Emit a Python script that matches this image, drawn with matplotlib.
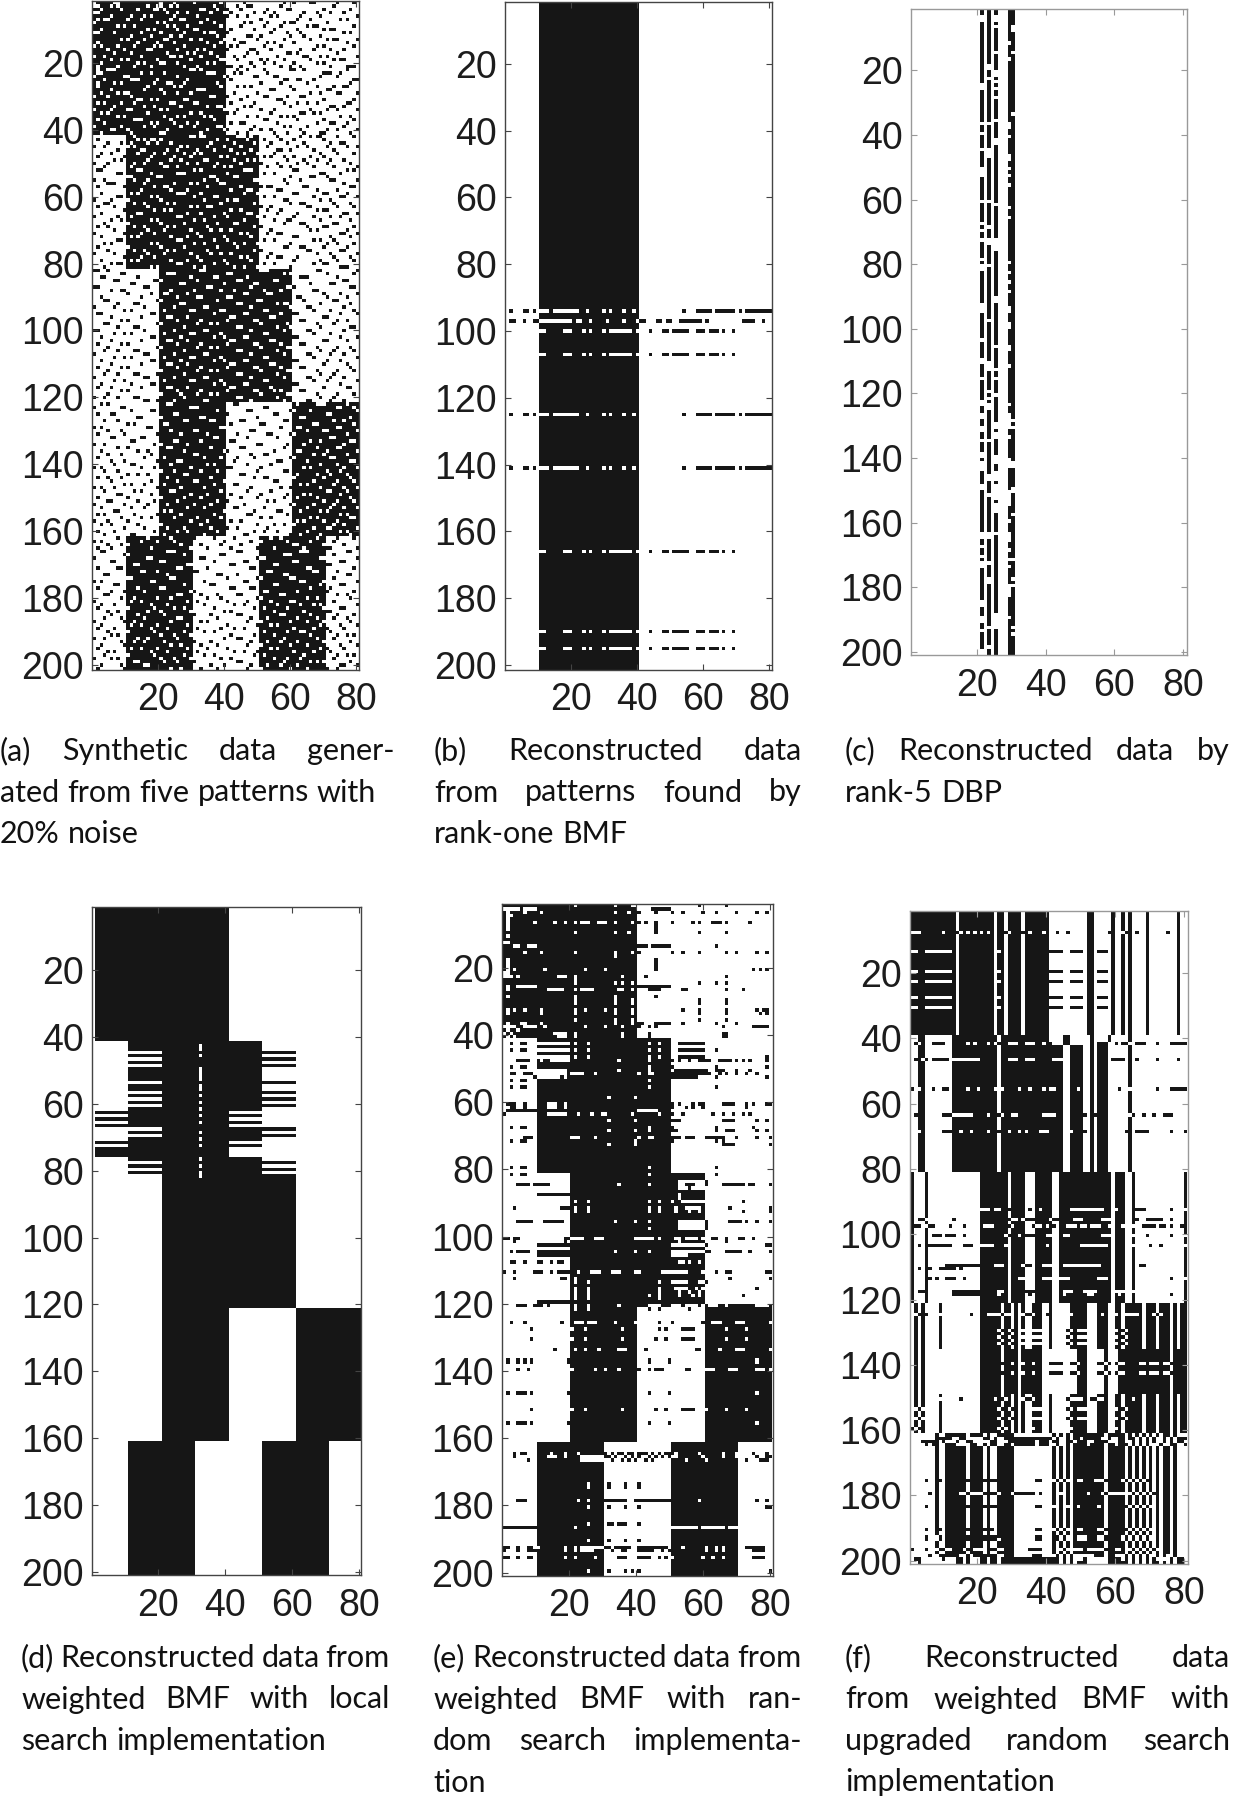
#!/usr/bin/env python
'''
Six binary matrices (200 rows x 80 columns). Cells were read by eye from the
picture: the block layout, stripes and row lines are close, but the single noise
cells of panel (a) are only estimates that keep the look and density of the picture.
'''
import numpy as np
import matplotlib
matplotlib.use('Agg')
import matplotlib.pyplot as plt
from matplotlib.colors import ListedColormap

W, H = 1233, 1800
BLACK = '#161616'
TEXT = '#1c1c1c'

# five planted patterns: first row, last row, black columns
PATTERNS = [(1, 40, '1-40'), (41, 80, '11-50'), (81, 120, '21-60'),
            (121, 160, '21-40 61-80'), (161, 200, '11-30 51-70')]

X_TICKS = [20, 40, 60, 80]
Y_TICKS = [20, 40, 60, 80, 100, 120, 140, 160, 180, 200]

# (a) flipped cells per row
A_NOISE = '''1 7-8 21 25 31 39 46 58 61 66-67 74 79
1-2 6 8 17 20-21 24 26 37 44 47-48 57 73
3 9 14 19-20 22 33-34 38 41 45 53 59-60 70 78
1-2 23 26 29 36 40 42 49 52 55 64 68 72 76
6 12 16 18 25 32 41 44 47 54 56 63 69 80
2 4-5 11 15 24 27-28 35 51 62 66 75 77
1 20 22 33 37 46 48 53 58 60-61 71
8 10 13 23 25 29 39 45 52 57 65 67-68 79
3 17 19 26 31-32 42 49 55 62 70 72-73
1-2 7 15 21 28 34 36-37 41 54 59 63 76 78
12 18 24 27 38 47-48 51 60 64 69
9 11 16 22-23 30 33 40 43 50 58 66 71 73-74 80
2 14 20 25 35 39 45-46 53 55 61 77
1 3 8 13 19 21 28 37 42 44 52 57 68 70 79
5 10 17 18 26 32 34 41 48-49 54 63 67 72 76
7 12 23 29 31 36 47 50 59-60 62 74
1 4 15 24-25 27 33 38 43 46 56 64-65 69 71 80
6 9 11 20 30 39-40 44 51 53 58 66 73 75-76
3 14 16 21-22 26 35 37 48 52 55 61 68 70
2 8 13 18 28 32 41-42 45 49 57 60 63 72 77-79
2 5-6 7 30 31 33 44 47 52 60 61 64 77
2 3 15 18 22 35 36 37 43 45 53 70 71 72 75
1 10 11 26 40 41 49 50 55 56 69 74
4 12 13 14 20 29 42 58 59 62 63 67 79 80
2 7 9 19 23 24 28 38 51 57 65 78
2 17 25 27 39 44 46 48 60 68 73 76 77
6 16 21 32 33 34 54 55 61 71 72
3 8 10 11 22 26 30 43 50 66 69 74 75 80
1 5 12 36 37 41 47 52 53 59 63 64
14 15 18 20 28 29 45 56 57 70 79
2 4 9 13 24 25 31 32 42 49 58 62 65 68 77 78
7 16 19 27 35 38 39 46 48 60 72 73 76
1 6 11 12 21 23 40 44 51 55 66 71 74 80
3 5 17 30 33 41 43 54 63 64 67 69
8 10 22 26 28 34 36 47 50 57 59 61 75 78
2 13 14 15 24 37 52 53 62 70 79
4 18 20 25 29 32 42 45 46 56 68 72 73 77
1 9 16 19 27 31 38 39 49 58 60 65 76
6 7 11 23 35 40 41 48 51 54 63 71 74 80
3 12 21 22 33 44 47 55 59 64 69 70 78
13 30 31 33 34 44-46 48 56 63 66 68-69 74 79
2 14 16 18 19 21 38 41 47 52 57 61 70
5 9 12 17 20 24 36 43 49 54 59 64 72 75-76
1 4 11 13 27 29 35 40 45 53 62 65 71 77 80
8 15-16 23 26 32 37 42 48 56-57 60 67 73
3 6 14 19 22 28 31 33 44 46 50 55 69 74 79
2 10 18 25 30 39 41 52 54 58 61 66 70
7 9 17 24 27 34-35 43 47 49 59 64 68 72 76
1 5 13 16 21 29 32 38 45 51 56 62 65 71 78
4 12 22-23 26 37 40 42 53 57 60 67 73 80
2 3 14 15 31 33 46 47 48 61 62 77 79
8 9 18 26 27 28 41 52 55 69 70 75
11 12 20 21 36 37 43 44 60 66 67 71
1 4 13 17 34 38 49 50 58 63 72 73 80
5 6 7 16 25 30 32 39 40 59 76
2 10 19 22 23 35 45 51 53 54 64 65 78 79
15 24 29 42 47 48 56 57 68 74
3 12 14 26 27 28 33 46 50 61 62 70 71 77
8 9 18 20 31 37 38 52 55 67 75 76 80
1 6 11 21 34 41 43 44 58 59 69 72
4 5 13 16 23 25 39 49 60 63 64 73 78
2 7 17 30 32 35 36 51 54 65 66 74 79
10 19 22 24 42 45 53 57 68 70 71
3 14 15 29 33 40 47 48 56 62 76 77 80
1 8 12 26 27 37 41 50 52 61 67 72 75
6 9 18 20 31 34 46 55 59 60 69 78
4 11 21 28 38 43 44 58 63 64 73 74
2 5 13 16 23 25 35 49 51 65 70 71 79
7 17 22 30 36 39 42 54 66 68 77
1 10 15 19 32 45 47 53 56 57 75 76 80
3 12 14 24 29 33 40 48 61 62 72 78
8 9 26 27 37 41 52 55 67 69 73
4 6 18 20 31 34 43 46 50 60 71 74 79
2 11 21 28 38 44 58 59 63 64 70 77
5 13 16 23 25 35 49 51 65 66 75 76
1 7 17 22 30 36 39 42 54 68 72 80
10 15 19 32 45 47 53 56 57 62 73 78
3 12 14 24 29 33 40 48 61 69 74 79
6 8 9 26 27 37 41 52 55 67 70 71
4 18 20 31 34 43 46 50 60 75 76 77
1 2 5 33 34 51 52 53 68 69 80
9 10 23 24 25 41 42 58 60 71 79
3 4 14 30 37 38 47 63 64 65 74
7 8 19 20 21 32 44 45 55 56 76 77
12 13 27 28 40 49 50 66 72 73
1 2 16 17 35 36 48 59 60 61 78 79
6 9 10 24 31 39 43 52 57 67 68
11 18 22 23 29 46 47 53 54 70 75 80
3 15 26 32 33 41 42 62 63 71 77
4 5 20 21 38 50 51 64 73 74
8 13 14 27 28 44 45 56 58 59 69 78
1 7 16 25 34 35 48 60 65 66 76
10 12 22 30 31 39 40 52 53 67 72 79
2 3 18 19 37 46 47 57 61 62 75 80
6 15 23 24 29 42 43 54 55 70 71
9 11 26 33 41 49 50 63 64 74 77
4 5 20 21 32 36 38 51 59 68 73
8 13 14 28 44 45 56 60 69 78 79
1 2 16 25 34 35 48 58 65 66 76
7 10 12 22 30 31 39 52 53 67 72
3 18 19 27 37 40 46 47 61 62 75 80
6 15 23 24 29 42 43 54 55 70 71 77
2 9 11 26 33 41 49 50 57 63 64
5 20 21 32 36 38 51 59 60 68 74 78
4 8 13 14 28 44 45 56 69 73 79
1 16 17 25 34 35 48 58 65 66 72 76
7 10 12 22 30 31 39 52 53 67 80
3 18 19 27 37 40 46 47 61 62 71 75
6 15 23 24 29 42 43 54 55 70 77
2 9 11 26 33 41 49 50 57 63 64 78
5 21 32 36 38 51 59 60 68 74 79
4 8 13 14 20 28 44 45 56 69 73
1 16 17 25 34 35 48 58 65 66 72 76
7 10 22 30 31 39 52 53 67 71 80
3 12 18 19 37 40 46 47 61 62 75
2 6 15 23 24 29 42 43 54 70 77 78
9 11 26 33 41 49 50 55 57 63 64
5 21 27 32 36 38 51 59 60 68 74 79
1 4 8 13 14 28 44 45 56 69 73
16 17 20 25 34 35 48 58 65 66 72 76
3 5 23 24 43 44 62 68 69 70 77
1 9 10 30 31 32 52 53 74 75 79
12 18 19 38 47 48 60 61 66 80
2 6 7 25 26 41 55 56 71 72
14 15 21 33 34 50 63 64 78
4 8 28 29 36 37 45 46 58 59 73 76
11 13 22 23 42 51 52 67 68 79
1 3 17 18 39 40 57 62 63 74 75
5 9 24 31 32 48 49 65 70 71 80
2 10 20 27 35 44 53 54 60 61 77
6 7 15 16 37 38 47 56 72 73
12 13 25 26 33 42 43 66 69 78 79
1 4 19 21 29 50 51 59 64 76
8 11 23 24 36 45 46 58 68 74 75
3 14 17 28 40 41 55 62 63 71 80
5 9 18 31 32 48 52 53 67 70 77
2 16 22 34 39 44 49 60 61 72 73
6 10 20 26 27 43 56 57 65 78 79
7 12 13 24 35 37 47 54 69 74
1 3 15 19 30 41 42 51 64 66 76 80
4 8 21 25 33 38 50 58 59 71 75
11 14 17 28 29 45 46 62 68 72 77
2 5 9 23 36 49 52 53 61 70 78
6 18 26 31 32 40 55 56 67 74 79
10 12 16 22 37 43 44 63 65 73
1 3 7 20 27 34 48 57 60 69 76 80
4 13 15 24 25 39 47 54 71 72 77
8 9 18 30 35 42 51 59 64 66 75
2 11 21 28 33 45 50 58 62 68 78
5 6 14 19 26 38 41 53 55 70 74 79
1 10 17 23 31 36 46 60 61 67 73
3 12 16 29 34 43 44 52 65 72 76 80
7 8 22 24 40 49 56 57 63 69 71
2 4 13 20 27 37 47 48 59 75 77
9 15 18 25 32 39 51 54 66 68 78 79
1 5 11 30 35 42 45 62 64 70 74
3 6 14 21 33 50 55 58 61 73 76
10 16 23 28 36 41 44 53 67 71 72 80
2 7 19 26 29 38 49 52 56 65 75 77
4 12 13 22 34 46 47 60 63 69 78
8 17 24 31 37 43 54 57 68 74 79
1 3 15 20 25 40 48 51 59 66 73
5 9 11 27 33 39 45 61 62 70 76
2 6 18 30 35 42 50 55 64 71 72 80
3 4 23 24 25 44 45 63 64 65 77 78
10 11 28 39 40 58 59 60 73
1 17 18 33 34 50 51 52 69 70 80
6 7 21 22 37 46 47 61 62 75 76
13 14 29 30 42 43 55 56 71 72
2 8 9 26 27 35 48 49 65 66 79
15 16 20 31 32 53 54 67 68 74
4 5 23 38 39 44 58 59 77 78
11 12 24 25 41 50 51 60 61 73
1 3 18 19 34 46 47 63 64 70 80
7 8 28 36 37 55 56 69 75 76
2 14 21 22 42 43 48 49 66 72
6 10 16 30 31 52 53 62 71 79
4 5 26 27 33 38 44 45 57 58 74 77
9 13 20 24 35 39 50 51 65 68 78
1 12 15 29 32 41 47 54 60 61 73
3 7 18 23 34 43 46 56 63 67 69 80
2 11 19 25 28 37 49 52 59 70 75 76
5 8 17 21 30 40 42 55 64 71 72
6 14 22 31 36 44 45 57 58 66 74 79
4 9 16 26 27 38 48 53 62 68 73 77
1 10 13 24 33 35 47 51 60 65 70 78
3 12 15 20 29 41 50 54 56 69 75 80
2 7 18 23 32 39 43 46 61 67 71 76
5 11 19 28 34 37 52 59 63 64 72
6 8 21 25 30 42 49 55 66 74 77 79
1 4 14 17 26 40 44 45 58 68 73
9 13 16 22 31 36 48 53 57 62 70 78
3 10 24 27 33 38 47 51 60 65 75 80
2 12 15 20 29 35 41 54 56 69 71 76
5 7 18 23 32 43 46 50 61 67 72
4 11 19 28 34 37 49 52 64 74 77 79
1 6 8 21 25 30 39 42 55 59 63 73
13 14 22 26 31 44 45 58 66 68 70 78
3 9 16 17 36 40 48 53 57 62 75 76 80
2 10 24 27 33 38 47 51 60 65 71 74
5 12 15 20 29 35 41 54 56 69 72 79
1 7 18 23 32 43 46 50 61 67 73 77
4 11 19 28 34 37 49 52 64 70 78 80'''

# (b) rows sharing one pattern of flipped cells
B_COLS = '11-40'
B_ROWS_1 = [93, 124, 140]
B_FLIP_1 = '2 6-7 9 11-13 15-22 25 30 32 36 39 54 58-62 64-69 71 73-80'
B_ROWS_2 = [99, 106, 165, 189, 194]
B_FLIP_2 = '11-12 18-20 24 26 30 32-38 40 44 48-49 51-55 58-60 62-64 66 69'
B_ROWS_3 = [96]
B_FLIP_3 = '2-3 6 9-10 11-20 22-23 26 31 36 40 41-42 46-47 49-50 53-59 61 72-75 78'

# (c) the black columns and their white gaps, as rows
C_COLS = [21, 23, 25, 29, 30]
C_GAP_21 = '3-4 24-25 36 39 44 50-52 60 67 69 72 78 80-81 92-94 103 109-110 115 122-123 126-127 130-131 134 138-139 141 142-143 148-149 163-164 167 170 172-173 184-185 189-190 193 199-200'
C_GAP_23 = '18-19 22 36 44-46 60 68 72-73 80 97 110-112 119 121 123-124 134 145-146 151 163-164 172 177-178 192 198'
C_GAP_25 = '3-4 6 14 20-21 23 25 28 35 41-42 61 72-74 75 90-91 105 112 115 120 129-130 132-133 139-141 144-146 148-149 150-152 154-156 163 188-192'
C_GAP_29 = '11 16 36-37 40 46-47 50 52 55 62 65 79 82 85 88 93-94 98-99 105-106 111 123 126 127-130 133 140-142 150-154 159 163-165 168 171 173 179-182 189'
C_GAP_30 = '6-7 14 33 128 130 141-142 157 171 177 149-150 179 192 194'

# (d) row groups inside the 41-81 band
D_ROWS_LEFT = [62, 64, 66, 71, 73, 74, 75]
D_ROWS_RIGHT = [44, 46, 48, 53, 56, 58, 60, 67, 69, 77, 79]
D_COL_32_WHITE = [42, 43, 45, 49, 50, 51, 52, 54, 55, 57, 59, 61, 63, 65, 68, 70, 72, 76, 78, 80, 81]

# (e) flips per row
E_FLIPS = {
    1: '22 34 39-40 59 67', 2: '1-5 7-10 45-50', 3: '2 7 12 34 38 41 46 51 54 60 64 70 76 79',
    4: '2-3', 5: '2', 6: '2 10 16 19 22 24-26 29-31 34 39 41 43 46 51 57 59 63-65 67 74',
    7: '2 46', 8: '2 46', 9: '22 34 38 46 59 67', 10: '2', 12: '1-2', 13: '4-5 8-10 41-43 45-50 64',
    15: '7 12 22 34 39 41 51 54 59 67 70 76 79', 16: '34', 17: '2 46', 18: '2 46', 19: '2 46', 20: '2 4 13 25 31 46 75 77 79',
    21: '1-2', 22: '1-3 5 17-19 22 36 43 67', 23: '22', 24: '22 34 36 39 59 64 67',
    25: '2 5-10 41-50', 26: '2 14-18 22 24-27 35-36 39 44-47 54-55 67 72', 28: '2 22 34 46', 29: '22 34 39 59 67',
    30: '22 34 39 59 67', 32: '2 4 7 12 22 25 31 34 39 54 59 67 76 78-79', 33: '2 12 22 34 39 59 67 77 79',
    35: '22 34 39 59 67', 36: '2 6 7 12 34 39 41-42 46-50 54 64 70', 37: '1-4 7-10 13 25 31 36 41 44 46 66 75-79',
    38: '2 5', 39: '1 3 16-19 22 36 44 66-67', 40: '2 4 17-19 22 36 66-67 44',
    42: '3 6-7 11-20 22 26 44 47 53-60', 44: '3 6-7 11-20 22 26 44 47 53-60 64', 46: '11-20 22 26 44 47 53-60 79',
    47: '5-8 12 15-20 35 44 51 53 56 59-62 65-68 70 72 74 79', 49: '3 6-7 44 51 64 79',
    50: '11-14 15-19 35 44 52-55 56-61 64-66 70 74', 51: '3-4 7-9 11-19 21-24 28 41 44-45 51-58 59-62 65 67 70 73 76',
    52: '10-17 19 51-58 64 79', 53: '3 6-7 44', 55: '3 6-7 44 64', 58: '32 40',
    60: '2-4 7 14-15 16 19 51 53 57 59-60 66-69 73 75 79-80', 61: '3-4 7 14-15 16 19 51 55 57 60 73',
    62: '2-10 41-46', 63: '1 14-15 16-19 23 27 30-31 39 47 51 54 63 66 69 72 74',
    65: '32 40 51-53 66-69 76 79', 67: '3 6-7 44 51 64 75', 68: '32 40 44 51-52 64 67-69 76 79',
    70: '7-9 21-23 28 41 44-45 51-53 55-57 61-63 64-66 70 76 80', 71: '3 6-7 40 51 64 66', 72: '32 40 66-69 80',
    79: '3 6-7 44 64', 81: '3 6-7 44 64',
    83: '53-61', 84: '5-8 10-14 35 44 53-54 58-61 66-69 70-72 74-75 80', 85: '53-55 57-60', 87: '11-20 53', 88: '53',
    89: '22 26 44 47 51 54-60 72', 91: '4 18-20 22 26 44 47 52 55-59 68 80', 92: '22 26 44 47 52 56 59 72 80',
    95: '5-9 13-18 34 40 44 53-61 68-71 73 76 80', 96: '53-61', 97: '44 53-61', 100: '1-2 4-5 19-20 21-24 28-30 40-45 47 52-53 55-58 60 63-64 67 71-72 75',
    101: '4 19 53 67', 102: '11-20 51-61 79-80', 104: '3 5-8 11-20 34 40 44 51-62 67-71 74 80',
    105: '11-20 51-55', 107: '3-4 7 11-12 15 17-18 53-54 56 59', 110: '1 4 10-12 15 17-20 23 27-29 33-35 40-41 48-55 60 64 67-68 79-80',
    112: '4 18-19 22 68 80', 113: '22 26 47 51-54 55 59-61', 115: '22 26 47 52-55 58 60 76',
    116: '22 26 47 53 56 59', 117: '22 26 44 47 53 57 59 72', 118: '22 26 47', 119: '11-20',
    120: '5-7 10-12 14 22 26 35 44-47 51-53 55-58 60-61 65-66 68-75 80', 121: '22 26 44 47 56',
    125: '3 7 18 22-24 26-28 34 40 47 51 60 63-65 70-72 80', 127: '9 21 25 36 47 49 54-56 57 67 73',
    130: '9 21 25 36 46 49 54-56 57 67 73', 133: '16 22 25 29 35-37 43 58-59 65 70-72 80',
    136: '2 5 7 9 20 44 50 76', 137: '2 5 7 9 20 44 50 76', 139: '5 8 21 28 31 35 41 44 46-48 55-56 61-63 68-70 76-78 80',
    146: '2 5-7 9 20 44 50 76', 151: '9 21 25 36 46 49 54-56 57 61 67 73', 155: '2 5-7 9 20 44 50 76',
    164: '4 6-7 15 19 23 31 33 35-36 38-39 41-43 45 47 49-50 52 59 66 70 75 79',
    165: '4 14-16 19 24-31 32 34 37 39 41 44 46 48 50-51 52 60 66 70 76 79-80', 166: '8 24-30 33 36 38 40 43 45 55 61 73 77-79',
    173: '26 32 37 41', 174: '26 32 37 41', 178: '5-7 23 26 31-36 37 40-50 59 76 79', 180: '26 32 37 41 79-80',
    185: '26 32-33 35-37 41', 186: '1-10 22 51-58 60-66 68-70', 190: '26 32 37 41',
    192: '1-2 5 8-9 11 19 22 24-30 31-32 34-38 41-49 54 61 64 66 73-78', 193: '1 5 8-10 19 22 24-27 33 36-37 41-45 48 50 61 64 66 75-78',
    195: '1-2 5 8-9 19 22 28 35-37 41-44 47 49 51 60 63 66 75-78', 199: '26 32 37 39 41 80',
}

# (f) black columns of each band, then flips per row
F_BANDS = [(1, 38, '1-13 15-24 26-27 29-32 34-40 52-53 59 62 64 69 78'),
           (39, 80, '3-4 13-25 27-44 47-50 53 55-57 64'),
           (81, 120, '1 5 21-28 30-33 37-41 44-58 60-62 65 80'),
           (121, 134, '2 4 9 21-26 28-29 31 33 36-38 41 47-48 49-51 55-57 60-61 63-67 69-71 73-75 77 79-80'),
           (135, 148, '2 4 21-26 28-29 30-31 33-38 49-51 57 61-75 77-80'),
           (149, 160, '2 4 9 21-26 28-29 31 33 36-38 41 47-48 49-51 55-57 60-61 63-67 69-71 73-75 77 79-80'),
           (161, 200, '8 11-16 18-21 23 26-30 42 44 46 48-50 51-56 58-61 62 64 66 68 70 72 74-75 77')]
F_FLIPS = {
    7: '1-3 10 14-15 17 19 21 23 28-29 33 35 39 43 46 58 62-63 66 75',
    13: '1-2 5-12 26 41-44 47-50 55-57', 19: '1-2 5-12 26 41-44 47-50 55-57', 22: '1-2 5-12 26 41-44 47-50 55-57',
    27: '1-2 5-12 26 41-44 47-50 55-57', 30: '1-2 5-12 26 41-44 47-50 55-57',
    39: '41-50 55-58', 40: '41-50 55-58', 41: '2-3 7-10 17 19 23 25-26 29-31 34-36 39 42-50 60 62-64 66-68 72 76-80',
    46: '2 4-5 7-11 13-20 29-31 34-36 42-44 59-62 66 72 78',
    55: '1 3 7 10-11 17 20 25 27 32 35 39 41-42 49 61 64 72 76-80',
    63: '2 10-12 13-18 23 26-27 30-31 39-42 51 54 64-65 68 71 74-76',
    68: '3 10-12 15 18 23 26 29 32 34 38-40 47 51 63 66-69 76 80',
    92: '21-23 25-26 29 35 38 47-56 60 66-68 76 80', 95: '3-5 13 29-31 33-36 41-43 48-50 56-58 66 69-73 76',
    97: '2-3 5-7 12 16 22-24 29-30 36-38 40 42 46-48 50-51 53-55 58 62 65 68-71 73-74 76 79',
    100: '7-9 11-13 16 28-29 32 34-36 40-41 45-46 56-58 65 69 76 80',
    103: '3 6-9 10-12 16-18 21-24 28 40 50-57 65 70 73 80',
    109: '11-20 25-27 33-35 39-41 45-47 48-55 67-68', 110: '3 6 9-13 15',
    113: '6 8 11-13 16 32-33 39-41 44-46 55-57 76 80',
    117: '3-4 13-20 26-27 34-36 45-47 51-54 60-62 65', 118: '13-20 26 35 45 52-53 61 76',
    124: '2 3 5 9 18 23-25 26-29 33-36 40 47 56 60 63-66 71-73',
    129: '26-27 29-30 33 36-38 46-47 49-51 60 62-63', 131: '26-27 29-30 33 36-38 46-47 49-51 60 62-63',
    133: '26-27 29-30 33 36-38 46-47 49-51 60 62-63', 139: '27 30 33 36 41-44 47-49 55-58 60-62 67-68 70-72 74-76',
    142: '27 30 33 36 41-44 47-49 55-58 60-62 67-68 70-72 74-76', 150: '9 15 25 27-28 33-36 46-50 53-56 65',
    153: '2-4 26-27 29-30 36-38 46-47 49-51 60 62-63', 156: '2-4 26-27 29-30 36-38 46-47 49-51 60 62-63',
    159: '1-3 26-28 36 47 60', 162: '9-10 13-14 18-22 25-27 31-44 50 56 59-60 65-72 75-80',
    163: '4-7 10-13 15-17 19-21 23-28 31-36 38-40 43-44 47-48 52-53 57-60 64-72 75-79',
    164: '5 7 14-16 20-27 30-36 38-40 42-44 52 60 63-70 72-76 80',
    175: '5 9 17 22 24-25 37-38 42-46 49-50 54-57 62-69', 179: '6 15-22 24-26 30-36 38 44 52 56-62 64-71',
    183: '5 17 22 24-25 37-38 42 46 49 55 63-70', 190: '5 9 17 22 24 37-38 42-46 49-50 55-57 63-70',
    192: '5 8-9 17 22 24-25 37-38 43-46 49-51 55-57 62-70', 193: '5 8-9 17 22 24-26 37-38 43-46 49-51 55-57 62-70',
    196: '1 5 8-10 11-12 16-17 19-21 24-27 35-38 44-46 48-50 52-57 60-61 64-72', 198: '6 8-10 15-18 22 24-27 36-38 42-53 60-70 75',
    199: '2-3 8 10-13 16-20 22-26 31-41 43-50 52-56 62-72 74-79',
    200: '3 8 11-13 16-20 22-26 31-41 43-48 52-56 63-71 75-79',
}

CAPTIONS = {
    'a': (0, 395, 760, ['(a) Synthetic data gener-', 'ated from five patterns with', '20% noise'], (True, False, False)),
    'b': (434, 802, 760, ['(b) Reconstructed data', 'from patterns found by', 'rank-one BMF'], (True, True, False)),
    'c': (845, 1230, 760, ['(c) Reconstructed data by', 'rank-5 DBP'], (True, False)),
    'd': (21, 390, 1667, ['(d) Reconstructed data from', 'weighted BMF with local', 'search implementation'], (True, True, False)),
    'e': (433, 802, 1667, ['(e) Reconstructed data from', 'weighted BMF with ran-', 'dom search implementa-', 'tion'], (True, True, True, False)),
    'f': (845, 1230, 1667, ['(f) Reconstructed data', 'from weighted BMF with', 'upgraded random search', 'implementation'], (True, True, True, False)),
}


def parse(spec):
    out = []
    for part in spec.split():
        if '-' in part:
            lo, hi = part.split('-')
            out += list(range(int(lo), int(hi) + 1))
        else:
            out.append(int(part))
    return out


def set_block(grid, r0, r1, cols):
    for c in parse(cols):
        grid[r0 - 1:r1, c - 1] = 1


def flip_cells(grid, row, cols):
    # every listed cell flips once, even if a row lists it twice
    for c in set(parse(cols)):
        grid[row - 1, c - 1] ^= 1


def patterns():
    grid = np.zeros((200, 80), dtype=int)
    for (r0, r1, cols) in PATTERNS:
        set_block(grid, r0, r1, cols)
    return grid


def panel_a():
    grid = patterns()
    for (i, line) in enumerate(A_NOISE.split('\n')):
        if i < 200:
            flip_cells(grid, i + 1, line)
    return grid


def panel_b():
    grid = np.zeros((200, 80), dtype=int)
    set_block(grid, 1, 200, B_COLS)
    for (rows, cols) in [(B_ROWS_1, B_FLIP_1), (B_ROWS_2, B_FLIP_2), (B_ROWS_3, B_FLIP_3)]:
        for r in rows:
            flip_cells(grid, r, cols)
    return grid


def panel_c():
    grid = np.zeros((200, 80), dtype=int)
    for c in C_COLS:
        grid[:, c - 1] = 1
    for (c, gaps) in zip(C_COLS, [C_GAP_21, C_GAP_23, C_GAP_25, C_GAP_29, C_GAP_30]):
        for r in parse(gaps):
            grid[r - 1, c - 1] = 0
    return grid


def panel_d():
    grid = patterns()
    for r in D_ROWS_LEFT:
        grid[r - 1, 0:10] = 1
        grid[r - 1, 40:50] = 0
    for r in D_ROWS_RIGHT:
        grid[r - 1, 10:20] = 0
        grid[r - 1, 50:60] = 1
    for r in D_COL_32_WHITE:
        grid[r - 1, 31] = 0
    return grid


def panel_e():
    grid = patterns()
    for (r, cols) in E_FLIPS.items():
        flip_cells(grid, r, cols)
    return grid


def panel_f():
    grid = np.zeros((200, 80), dtype=int)
    for (r0, r1, cols) in F_BANDS:
        set_block(grid, r0, r1, cols)
    for (r, cols) in F_FLIPS.items():
        flip_cells(grid, r, cols)
    return grid


def draw_panel(fig, box, ylim_top, grid, frame, x_edge=0.5, xlim=None):
    # box is left, top, right, bottom in picture pixels
    left, top, right, bottom = box
    ax = fig.add_axes([left / W, 1 - bottom / H, (right - left) / W, (bottom - top) / H])
    cmap = ListedColormap(['white', BLACK])
    ax.imshow(grid, cmap=cmap, vmin=0, vmax=1, aspect='auto', interpolation='nearest',
              extent=(x_edge, x_edge + 80, ylim_top + 200, ylim_top))
    if xlim is None:
        xlim = (x_edge - 0.3, x_edge + 80.3)
    ax.set_xlim(*xlim)
    ax.set_ylim(ylim_top + 200, ylim_top)
    ax.set_xticks(X_TICKS)
    ax.set_yticks(Y_TICKS)
    ax.tick_params(direction='in', length=4.5, width=0.8, color=frame, top=True, right=True,
                   labelsize=27, labelcolor=TEXT, pad=6)
    ax.tick_params(axis='x', pad=9)
    for spine in ax.spines.values():
        spine.set_color(frame)
        spine.set_linewidth(1.0)
    return ax


def draw_caption(fig, left, right, baseline, lines, justify):
    rend = fig.canvas.get_renderer()
    for (i, (line, just)) in enumerate(zip(lines, justify)):
        y = 1 - (baseline + i * 41.5) / H
        words = line.split(' ')
        texts = [fig.text(0, y, w, fontsize=22, family='Lato', color='#111111', va='baseline') for w in words]
        widths = [t.get_window_extent(rend).width for t in texts]
        space = 8.0
        if just and len(words) > 1:
            space = (right - left - sum(widths)) / (len(words) - 1)
        x = left
        for (t, w) in zip(texts, widths):
            t.set_x(x / W)
            x += w + space


def main():
    plt.rcParams['font.family'] = ['Liberation Sans', 'DejaVu Sans']
    fig = plt.figure(figsize=(W / 100, H / 100), dpi=100)
    draw_panel(fig, (92, 1, 359, 670), 1.5, panel_a(), '#444444')
    draw_panel(fig, (505, 2, 772, 670), 1.5, panel_b(), '#444444')
    draw_panel(fig, (911, 9, 1187, 655), 1.0, panel_c(), '#999999', x_edge=0.9)
    draw_panel(fig, (92, 907, 361, 1575), 1.0, panel_d(), '#444444', x_edge=1.2, xlim=(0.3, 80.6))
    draw_panel(fig, (502, 904, 773, 1576), 1.0, panel_e(), '#444444')
    draw_panel(fig, (910, 911, 1188, 1564), 1.0, panel_f(), '#999999', x_edge=0.9)
    for key in 'abcdef':
        (left, right, baseline, lines, justify) = CAPTIONS[key]
        draw_caption(fig, left, right, baseline, lines, justify)
    fig.savefig('out.png', dpi=100)


if __name__ == '__main__':
    main()
